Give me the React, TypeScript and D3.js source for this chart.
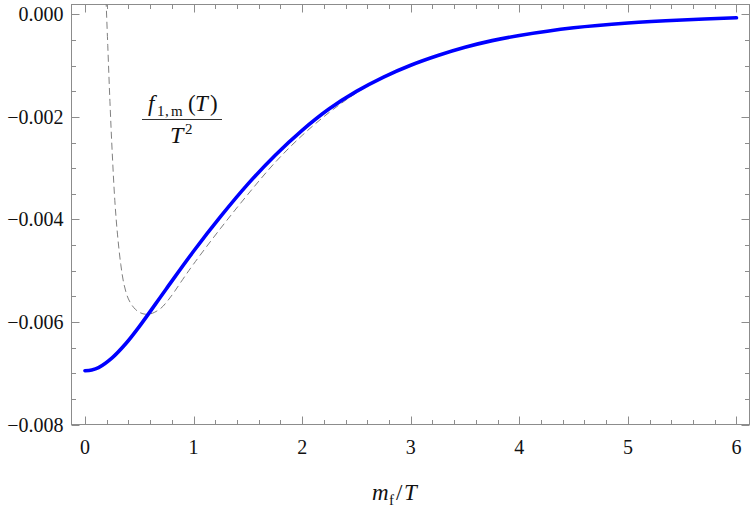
import React, { useEffect, useRef } from "react";
import * as d3 from "d3";

// blue curve: f_{1,m}(T)/T^2 versus m_f/T
const massRatio = [
  0, 0.0625, 0.125, 0.25, 0.375, 0.5, 0.75, 1.0, 1.25, 1.5, 1.75, 2.0, 2.25,
  2.5, 2.75, 3.0, 3.25, 3.5, 3.75, 4.0, 4.5, 5.0, 5.5, 6.0,
];
const freeEnergy = [
  -0.00695, -0.006935, -0.00689, -0.0067, -0.006425, -0.00609, -0.00535,
  -0.00462, -0.00394, -0.00331, -0.00275, -0.00226, -0.00184, -0.0015,
  -0.00122, -0.00099, -0.0008, -0.00064, -0.00051, -0.00041, -0.00026,
  -0.000166, -0.000106, -0.000065,
];

// dashed curve: the approximation that blows up at small m_f/T
const asymRatio = [
  0.19, 0.21, 0.23, 0.25, 0.275, 0.3, 0.33, 0.36, 0.4, 0.45, 0.5, 0.56, 0.62,
  0.7, 0.76, 0.82, 0.9, 1.0, 1.25, 1.5, 1.75, 2.0, 2.25, 2.5, 2.75, 3.0, 3.25,
  3.5, 3.75, 4.0, 4.5, 5.0, 5.5, 6.0,
];
const asymEnergy = [
  0.0005, -0.0006, -0.0017, -0.00265, -0.00363, -0.0043, -0.00488, -0.00527,
  -0.00555, -0.00572, -0.00581, -0.00585, -0.00583, -0.00573, -0.00559,
  -0.00542, -0.00517, -0.00487, -0.00417, -0.00351, -0.00289, -0.00236,
  -0.00191, -0.00153, -0.00122, -0.00099, -0.0008, -0.00064, -0.00051,
  -0.00041, -0.00026, -0.000166, -0.000106, -0.000065,
];

const xTickValues = [0, 1, 2, 3, 4, 5, 6];
const xTickLabels = ["0", "1", "2", "3", "4", "5", "6"];
const yTickValues = [0, -0.002, -0.004, -0.006, -0.008];
const yTickLabels = ["0.000", "\u22120.002", "\u22120.004", "\u22120.006", "\u22120.008"];

const App = () => {
  const ref = useRef<SVGSVGElement>(null);

  useEffect(() => {
    const svg = d3.select(ref.current);
    svg.selectAll("*").remove();

    const left = 71.5;
    const right = 749.5;
    const top = 4.5;
    const bottom = 424.5;
    const font = "'Liberation Serif', 'Times New Roman', serif";
    const frameColor = "#8c8c8c";

    const x = d3.scaleLinear().domain([-0.124, 6.12]).range([left, right]);
    const y = d3.scaleLinear().domain([-0.008, 0.000195]).range([bottom, top]);

    svg
      .append("defs")
      .append("clipPath")
      .attr("id", "plot-clip")
      .append("rect")
      .attr("x", left)
      .attr("y", top)
      .attr("width", right - left)
      .attr("height", bottom - top);

    // frame
    svg
      .append("rect")
      .attr("x", left)
      .attr("y", top)
      .attr("width", right - left)
      .attr("height", bottom - top)
      .attr("fill", "none")
      .attr("stroke", frameColor)
      .attr("stroke-width", 1);

    // ticks on all four sides, pointing inwards
    const xMinor = d3.range(0, 6.01, 0.2).filter((v) => Math.abs(v - Math.round(v)) > 1e-6);
    const yMinor = d3.range(-0.008, 0.0001, 0.0005).filter(
      (v) => Math.abs(v / 0.002 - Math.round(v / 0.002)) > 1e-6,
    );
    const ticks = svg.append("g").attr("stroke", frameColor).attr("stroke-width", 1);
    const xTick = (v: number, len: number) => {
      const px = Math.round(x(v)) + 0.5;
      ticks.append("line").attr("x1", px).attr("x2", px).attr("y1", bottom).attr("y2", bottom - len);
      ticks.append("line").attr("x1", px).attr("x2", px).attr("y1", top).attr("y2", top + len);
    };
    const yTick = (v: number, len: number) => {
      const py = Math.round(y(v)) + 0.5;
      ticks.append("line").attr("x1", left).attr("x2", left + len).attr("y1", py).attr("y2", py);
      ticks.append("line").attr("x1", right).attr("x2", right - len).attr("y1", py).attr("y2", py);
    };
    xTickValues.forEach((v) => xTick(v, 8));
    xMinor.forEach((v) => xTick(v, 4.5));
    yTickValues.forEach((v) => yTick(v, 8));
    yMinor.forEach((v) => yTick(v, 4.5));

    // tick labels
    svg
      .append("g")
      .selectAll("text")
      .data(xTickValues)
      .join("text")
      .attr("x", (d) => x(d))
      .attr("y", 454)
      .attr("text-anchor", "middle")
      .style("font-family", font)
      .style("font-size", "20px")
      .style("fill", "#111")
      .text((d, i) => xTickLabels[i]);

    svg
      .append("g")
      .selectAll("text")
      .data(yTickValues)
      .join("text")
      .attr("x", 63.5)
      .attr("y", (d) => y(d) + 7)
      .attr("text-anchor", "end")
      .style("font-family", font)
      .style("font-size", "20px")
      .style("fill", "#111")
      .text((d, i) => yTickLabels[i]);

    const plot = svg.append("g").attr("clip-path", "url(#plot-clip)");

    const dashedLine = d3
      .line<number>()
      .x((d, i) => x(asymRatio[i]))
      .y((d) => y(d))
      .curve(d3.curveCatmullRom.alpha(0.5));

    plot
      .append("path")
      .attr("d", dashedLine(asymEnergy))
      .attr("fill", "none")
      .attr("stroke", "#707070")
      .attr("stroke-width", 0.9)
      .attr("stroke-dasharray", "7,4");

    const mainLine = d3
      .line<number>()
      .x((d, i) => x(massRatio[i]))
      .y((d) => y(d))
      .curve(d3.curveCatmullRom.alpha(0.5));

    plot
      .append("path")
      .attr("d", mainLine(freeEnergy))
      .attr("fill", "none")
      .attr("stroke", "#0000ff")
      .attr("stroke-width", 3.6)
      .attr("stroke-linecap", "round");

    // math-like text pieces
    const piece = (
      px: number,
      py: number,
      str: string,
      size: number,
      italic = false,
    ) =>
      svg
        .append("text")
        .attr("x", px)
        .attr("y", py)
        .style("font-family", font)
        .style("font-size", `${size}px`)
        .style("font-style", italic ? "italic" : "normal")
        .style("fill", "#111")
        .text(str);

    // axis title m_f / T
    piece(372, 500, "m", 23, true);
    piece(389, 505, "f", 15);
    piece(396, 500, "/", 23);
    piece(404, 500, "T", 23, true);

    // curve label as a fraction f_{1,m}(T) / T^2
    piece(148, 111, "f", 23, true);
    piece(157, 116, "1", 15);
    piece(165, 116, ",", 15);
    piece(171, 116, "m", 15);
    piece(188, 111, "(", 23);
    piece(195, 111, "T", 23, true);
    piece(210, 111, ")", 23);

    svg
      .append("line")
      .attr("x1", 142)
      .attr("x2", 222)
      .attr("y1", 119.5)
      .attr("y2", 119.5)
      .attr("stroke", "#333")
      .attr("stroke-width", 1);

    piece(170, 143, "T", 24, true);
    piece(185, 134, "2", 15);
  }, []);

  return (
    <svg
      ref={ref}
      width={750}
      height={509}
      style={{ position: "absolute", left: 0, top: 0, background: "#fff" }}
    />
  );
};

export default App;
